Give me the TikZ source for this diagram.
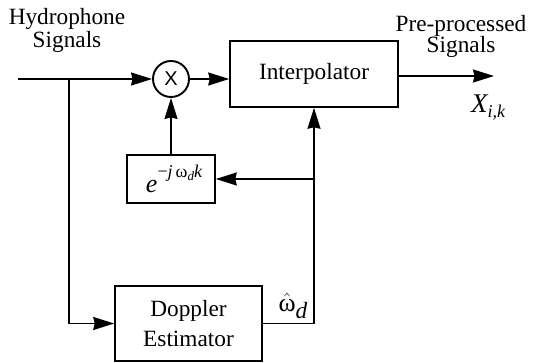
\documentclass[tikz,border=0pt]{standalone}
\usepackage{amsmath}
\usepackage{fontspec}
\setmainfont{Liberation Serif}
\newfontfamily\helv{Liberation Sans}
\usetikzlibrary{arrows.meta,calc}
\begin{document}
\begin{tikzpicture}[x=1pt,y=-1pt,
  line width=1.6pt,
  blk/.style={draw, rectangle, inner sep=0pt, font=\fontsize{23.3}{23}\selectfont},
  lbl/.style={inner sep=0pt, font=\fontsize{23.3}{23}\selectfont, align=center},
  arr/.style={-{Stealth[length=21pt,width=13pt,inset=1.5pt]}},
]
\useasboundingbox (0,0) rectangle (533,362);
% blocks
\node[blk, minimum width=168pt, minimum height=66pt] (interp) at (314,74) {\raisebox{-4pt}{Interpolator}};
\node[draw, circle, line width=1.9pt, minimum size=36pt, inner sep=0pt, font=\helv\fontsize{20}{20}\selectfont] (mult) at (171,79) {X};
\node[blk, minimum width=88pt, minimum height=48pt] (ebox) at (171,179)
  {\hspace{6pt}{\fontsize{26}{26}\selectfont\itshape e}\raisebox{15pt}{\fontsize{18}{18}\selectfont −\itshape j\,{\upshape ω}\raisebox{-3pt}{\fontsize{13}{13}\selectfont d}k}};
\node[blk, minimum width=147pt, minimum height=75pt, align=center] (dopp) at (188.5,323.5) {Doppler\\[7pt]Estimator};
% coordinates
\coordinate (in) at (18,79);
\coordinate (jn) at (69,79);
\coordinate (out) at (494,76);
\coordinate (br) at (314,179);
% connectors
\draw[arr] (in) -- (mult.west);
\draw[arr] (jn) |- (dopp.west);
\draw[arr] (mult.east) -- (mult.east -| interp.west);
\draw[arr] (interp.east |- out) -- (out);
\draw[arr] (dopp.east) -| (interp.south);
\draw[arr] (br) -- (ebox.east);
\draw[arr] (ebox.north) -- (mult.south);
% labels
\node[lbl, anchor=north] (hyd) at (67,8) {Hydrophone\\Signals};
\node[lbl, anchor=north] (pre) at (461,15) {Pre-processed\\[-2pt]Signals};
\node[lbl] (xik) at (488,108) {{\fontsize{27}{27}\selectfont\itshape X}\raisebox{-5pt}{\fontsize{18}{18}\selectfont\itshape i,k}};
\node[lbl] (wd) at (293,306) {$\hat{\text{\fontsize{26}{26}\selectfont ω}}$\raisebox{-7pt}{\itshape d}};
\end{tikzpicture}
\end{document}
